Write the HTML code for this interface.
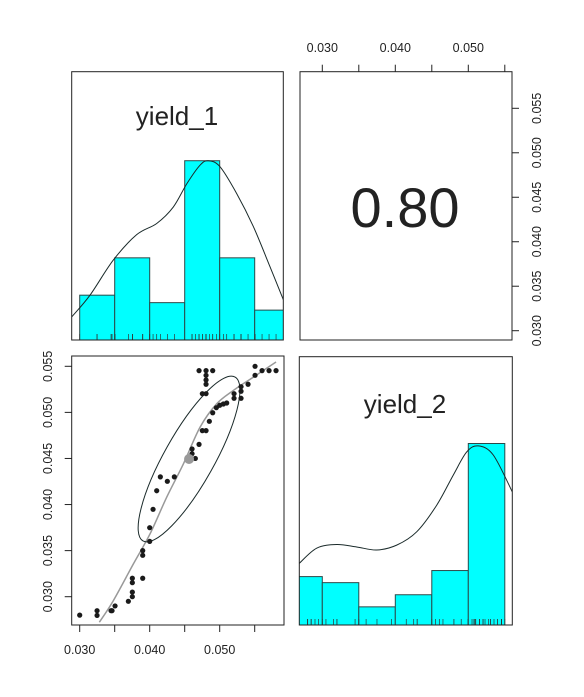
<!DOCTYPE html>
<html><head><meta charset="utf-8"><style>
body{margin:0;background:#fff}
svg{display:block;font-family:"Liberation Sans",sans-serif}
</style></head><body>
<svg id="c" width="584" height="697" viewBox="0 0 584 697"></svg>
<script>
// ---- data ----
const yield1 = [0.0300,0.03248,0.03248,0.03448,0.03462,0.03505,0.03695,0.03752,0.03752,0.03752,0.03752,0.0390,0.0390,0.0390,0.0400,0.0400,0.04048,0.04100,0.04152,0.04252,0.04352,0.04605,0.04605,0.04652,0.04705,0.04752,0.04805,0.04852,0.0490,0.04952,0.0500,0.05052,0.05100,0.04705,0.04805,0.0490,0.04805,0.04805,0.04805,0.04752,0.04805,0.05205,0.05205,0.05305,0.05305,0.05305,0.05405,0.05505,0.05505,0.05605,0.05705,0.05805];
const yield2 = [0.0280,0.02848,0.02797,0.02848,0.02848,0.0290,0.0295,0.0300,0.0305,0.03152,0.0320,0.0320,0.03449,0.0350,0.0360,0.03749,0.03948,0.0415,0.0430,0.04252,0.0430,0.04603,0.04552,0.0450,0.04653,0.04802,0.04802,0.04903,0.04996,0.05051,0.05077,0.05091,0.05102,0.05453,0.05453,0.05453,0.05402,0.05352,0.05305,0.05203,0.05203,0.05203,0.05153,0.05279,0.05229,0.05153,0.05305,0.0550,0.05402,0.05453,0.05453,0.05453];
const meanX = 0.04562, meanY = 0.04494;
const loessX = [0.03281,0.03481,0.03767,0.04005,0.04243,0.04481,0.04719,0.04957,0.05195,0.05481,0.05805];
const loessY = [0.02723,0.02958,0.03356,0.03682,0.04080,0.04441,0.04839,0.05093,0.05238,0.05383,0.05546];
const hist1Breaks = [0.030,0.035,0.040,0.045,0.050,0.055,0.060];
const hist1Counts = [6,11,5,24,11,4];
const dens1X = [0.02886,0.03147,0.0348,0.03814,0.0410,0.04337,0.04529,0.04719,0.04837,0.05004,0.05243,0.0548,0.05719,0.05909];
const dens1Y = [3.1,6.0,10.7,14.1,15.6,17.8,20.9,23.4,24.0,23.2,19.6,15.2,9.8,5.4];
const hist2Breaks = [0.025,0.030,0.035,0.040,0.045,0.050,0.055];
const hist2Counts = [8,7,3,5,9,30];
const dens2X = [0.02685,0.02923,0.03197,0.03471,0.03745,0.04019,0.04293,0.04567,0.04795,0.04978,0.05137,0.05342,0.05603];
const dens2Y = [10.2,12.7,13.3,12.9,12.4,13.2,15.4,19.8,24.8,28.6,29.6,28.1,22.0];
const ticks = [0.030,0.035,0.040,0.045,0.050,0.055];
const xLabels = ["0.030","0.040","0.050"];
const yLabels = ["0.030","0.035","0.040","0.045","0.050","0.055"];
const corrText = "0.80";

// ---- scales ----
const x1 = v => 79.7 + (v-0.030)*7000;
const x2 = v => 322.3 + (v-0.030)*7300;
const y3 = v => 596.7 - (v-0.030)*9216;
const y2 = v => 330.7 - (v-0.030)*8896;
const h1 = c => 340 - c*7.47;
const h4 = c => 625 - c*6.05;

const svg = document.getElementById('c');
const NS = 'http://www.w3.org/2000/svg';
function mk(tag, attrs, parent){
  const e = document.createElementNS(NS, tag);
  for (const k in attrs) e.setAttribute(k, attrs[k]);
  (parent||svg).appendChild(e); return e;
}
function smooth(pts){
  let d='M'+pts[0][0]+','+pts[0][1];
  for(let i=0;i<pts.length-1;i++){
    const p0=pts[Math.max(0,i-1)],p1=pts[i],p2=pts[i+1],p3=pts[Math.min(pts.length-1,i+2)];
    const c1=[p1[0]+(p2[0]-p0[0])/6,p1[1]+(p2[1]-p0[1])/6];
    const c2=[p2[0]-(p3[0]-p1[0])/6,p2[1]-(p3[1]-p1[1])/6];
    d+=`C${c1[0]},${c1[1]} ${c2[0]},${c2[1]} ${p2[0]},${p2[1]}`;
  }
  return d;
}
function clipRect(id,x,y,w,h){const cp=mk('clipPath',{id:id});mk('rect',{x:x,y:y,width:w,height:h},cp);}
clipRect('p1',71.7,71.7,211.6,268.3);
clipRect('p4',299.3,356.7,213,268.3);
clipRect('p3',71.7,356,212.3,269);

// panel 1 histogram
const g1 = mk('g',{'clip-path':'url(#p1)'});


hist1Counts.forEach((c,i)=>{
  const r = mk('rect',{x:x1(hist1Breaks[i]),y:h1(c),width:x1(hist1Breaks[i+1])-x1(hist1Breaks[i]),height:340-h1(c),fill:'#00ffff',stroke:'#2a4a4a','stroke-width':1},g1);
  
  
});
yield1.forEach(v=>{const t=mk('line',{x1:x1(v),x2:x1(v),y1:340,y2:334,stroke:'#333','stroke-width':0.7},g1);
  
  });
const d1 = mk('path',{d:smooth(dens1X.map((v,i)=>[x1(v),h1(dens1Y[i])])),fill:'none',stroke:'#1a2a2a','stroke-width':1},g1);



// panel 4 histogram
const g4 = mk('g',{'clip-path':'url(#p4)'});


hist2Counts.forEach((c,i)=>{
  const r = mk('rect',{x:x2(hist2Breaks[i]),y:h4(c),width:x2(hist2Breaks[i+1])-x2(hist2Breaks[i]),height:625-h4(c),fill:'#00ffff',stroke:'#2a4a4a','stroke-width':1},g4);
  
  
});
yield2.forEach(v=>{const t=mk('line',{x1:x2(v),x2:x2(v),y1:625,y2:619,stroke:'#333','stroke-width':0.7},g4);
  
  });
const d4 = mk('path',{d:smooth(dens2X.map((v,i)=>[x2(v),h4(dens2Y[i])])),fill:'none',stroke:'#1a2a2a','stroke-width':1},g4);



// panel 3 scatter
const g3 = mk('g',{'clip-path':'url(#p3)'});


const lo = mk('path',{d:smooth(loessX.map((v,i)=>[x1(v),y3(loessY[i])])),fill:'none',stroke:'#999','stroke-width':1.5},g3);


const cx=x1(meanX), cy=y3(meanY);
const el = mk('ellipse',{cx:cx,cy:cy,rx:94,ry:25,fill:'none',stroke:'#1a2a2a','stroke-width':1,transform:`rotate(-60.7 ${cx} ${cy})`},g3);


yield1.forEach((v,i)=>{const p=mk('circle',{cx:x1(v),cy:y3(yield2[i]),r:2.6,fill:'#1a1a1a'},g3);
  
  });
const mp = mk('circle',{cx:cx,cy:cy,r:5,fill:'#999'},g3);



// panel frames
[[71.7,71.7,211.6,268.3,'panel-yield-1'],[300,71.7,212,268.3,'panel-correlation'],[71.7,356,212.3,269,'panel-scatter'],[299.3,356.7,213,268.3,'panel-yield-2']].forEach(p=>{
  const r=mk('rect',{x:p[0],y:p[1],width:p[2],height:p[3],fill:'none',stroke:'#222','stroke-width':1});
  
  
});

function txt(s,x,y,size,name,rot){
  const t=mk('text',{x:x,y:y,'font-size':size,'text-anchor':'middle',fill:'#222'});
  if(rot) t.setAttribute('transform',`rotate(-90 ${x} ${y})`);
  t.textContent=s;
  
  
  return t;
}
txt('yield_1',177,125,26,'yield-1-label');
txt('yield_2',405,413,26,'yield-2-label');
txt(corrText,405,227,56,'correlation-value');

// axes
ticks.forEach(v=>{
  mk('line',{x1:x1(v),x2:x1(v),y1:625,y2:632,stroke:'#222'});
  mk('line',{x1:71.7,x2:64.7,y1:y3(v),y2:y3(v),stroke:'#222'});
  mk('line',{x1:x2(v),x2:x2(v),y1:71.7,y2:64.7,stroke:'#222'});
  mk('line',{x1:512,x2:519,y1:y2(v),y2:y2(v),stroke:'#222'});
});
xLabels.forEach(s=>{
  const v=parseFloat(s);
  txt(s,x1(v),654,12.5,'bottom-axis-label');
  txt(s,x2(v),52,12.5,'top-axis-label');
});
yLabels.forEach(s=>{
  const v=parseFloat(s);
  txt(s,52,y3(v),12.5,'left-axis-label',true);
  txt(s,541,y2(v),12.5,'right-axis-label',true);
});
</script>
</body></html>
